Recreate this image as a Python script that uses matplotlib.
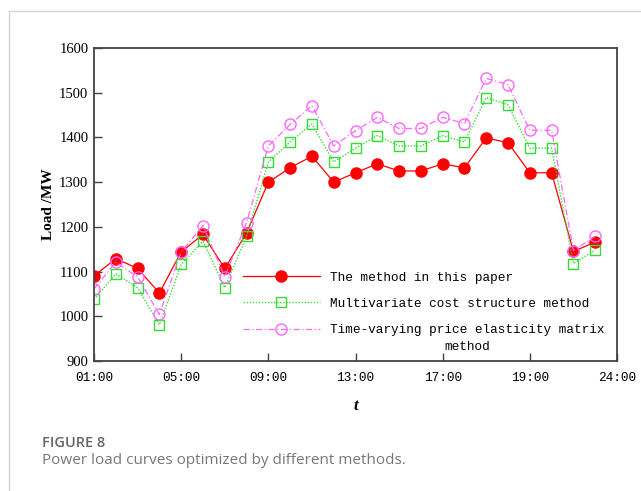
import matplotlib
matplotlib.use("Agg")
import matplotlib.pyplot as plt
from matplotlib.lines import Line2D

# hourly load, MW (hours 1..24)
hours = list(range(1, 25))
load_this_paper = [1090, 1129, 1107, 1052, 1144, 1183, 1107, 1186, 1300, 1332, 1358, 1300,
                   1321, 1341, 1325, 1325, 1341, 1332, 1399, 1388, 1321, 1321, 1145, 1166]
load_multivariate = [1038, 1095, 1064, 981, 1116, 1168, 1064, 1179, 1345, 1390, 1430, 1345,
                     1376, 1404, 1381, 1381, 1404, 1390, 1489, 1473, 1376, 1376, 1118, 1148]
load_elasticity = [1061, 1121, 1088, 1004, 1144, 1203, 1088, 1209, 1381, 1429, 1471, 1381,
                   1415, 1445, 1420, 1420, 1445, 1431, 1532, 1518, 1416, 1416, 1147, 1179]

tick_pos = [1, 5, 9, 13, 17, 21, 25]
tick_labels = ["01:00", "05:00", "09:00", "13:00", "17:00", "19:00", "24:00"]
y_ticks = [900, 1000, 1100, 1200, 1300, 1400, 1500, 1600]

labels = ["The method in this paper",
          "Multivariate cost structure method",
          "Time-varying price elasticity matrix\nmethod"]

MONO = "Liberation Mono"
SERIF = "Liberation Serif"

fig = plt.figure(figsize=(6.41, 4.91), dpi=100)
ax = fig.add_axes([94 / 641, 1 - 361 / 491, (617 - 94) / 641, (361 - 48) / 491])

ax.plot(hours, load_this_paper, color="#ff0000", lw=0.9, ls="-", marker="o", ms=8,
        mfc="#ff0000", mec="#ff0000", label=labels[0])
ax.plot(hours, load_multivariate, color="#33dd33", lw=1.0, ls=(0, (1, 1.2)), marker="s", ms=7.5,
        mfc="none", mec="#33dd33", mew=1.0, label=labels[1])
ax.plot(hours, load_elasticity, color="#ff66ff", lw=0.9, ls=(0, (5, 2, 1, 2)), marker="o", ms=8,
        mfc="none", mec="#ff66ff", mew=1.0, label=labels[2])

ax.set_xlim(1, 25)
ax.set_ylim(900, 1600)
ax.set_xticks(tick_pos)
ax.set_xticklabels(tick_labels, fontfamily=MONO, fontsize=9.2)
ax.set_yticks(y_ticks)
ax.set_yticklabels([str(v) for v in y_ticks], fontfamily=SERIF, fontsize=10.5)
ax.tick_params(direction="in", length=6, width=1, color="#444444", pad=4)
ax.tick_params(axis="x", pad=8)
for sp in ax.spines.values():
    sp.set_color("#444444")
    sp.set_linewidth(1.3)

ax.set_ylabel("Load /MW", fontfamily=SERIF, fontweight="bold", fontsize=11, labelpad=3)
ax.set_xlabel("t", fontfamily=SERIF, fontweight="bold", fontstyle="italic", fontsize=12, labelpad=10)

leg = ax.legend(loc="upper left", bbox_to_anchor=(0.285, 0.285), frameon=False,
                prop={"family": MONO, "size": 9.2}, handlelength=6.0, handletextpad=0.8,
                labelspacing=1.1, borderpad=0, borderaxespad=0)
for t in leg.get_texts():
    t.set_multialignment("center")
    t.set_linespacing(1.55)
# keep the third handle level with the first line of its two-line label
try:
    item = leg._legend_handle_box.get_children()[0].get_children()[2]
    for art in item.get_children()[0].get_children():
        art.set_ydata([y + 7.0 for y in art.get_ydata()])
except Exception:
    pass

# page frame of the figure panel
fig.add_artist(Line2D([9 / 641, 1], [1 - 11 / 491, 1 - 11 / 491], color="#d4d4d4", lw=1))
fig.add_artist(Line2D([9 / 641, 9 / 641], [0, 1 - 11 / 491], color="#d4d4d4", lw=1))

fig.text(42 / 641, 1 - 447 / 491, "FIGURE 8", fontfamily="Open Sans", fontweight="semibold",
         fontsize=10.5, color="#666666", va="baseline")
fig.text(42 / 641, 1 - 464 / 491, "Power load curves optimized by different methods.",
         fontfamily="Open Sans", fontsize=11, color="#777777", va="baseline")

fig.savefig("out.png", dpi=100, facecolor="white")
